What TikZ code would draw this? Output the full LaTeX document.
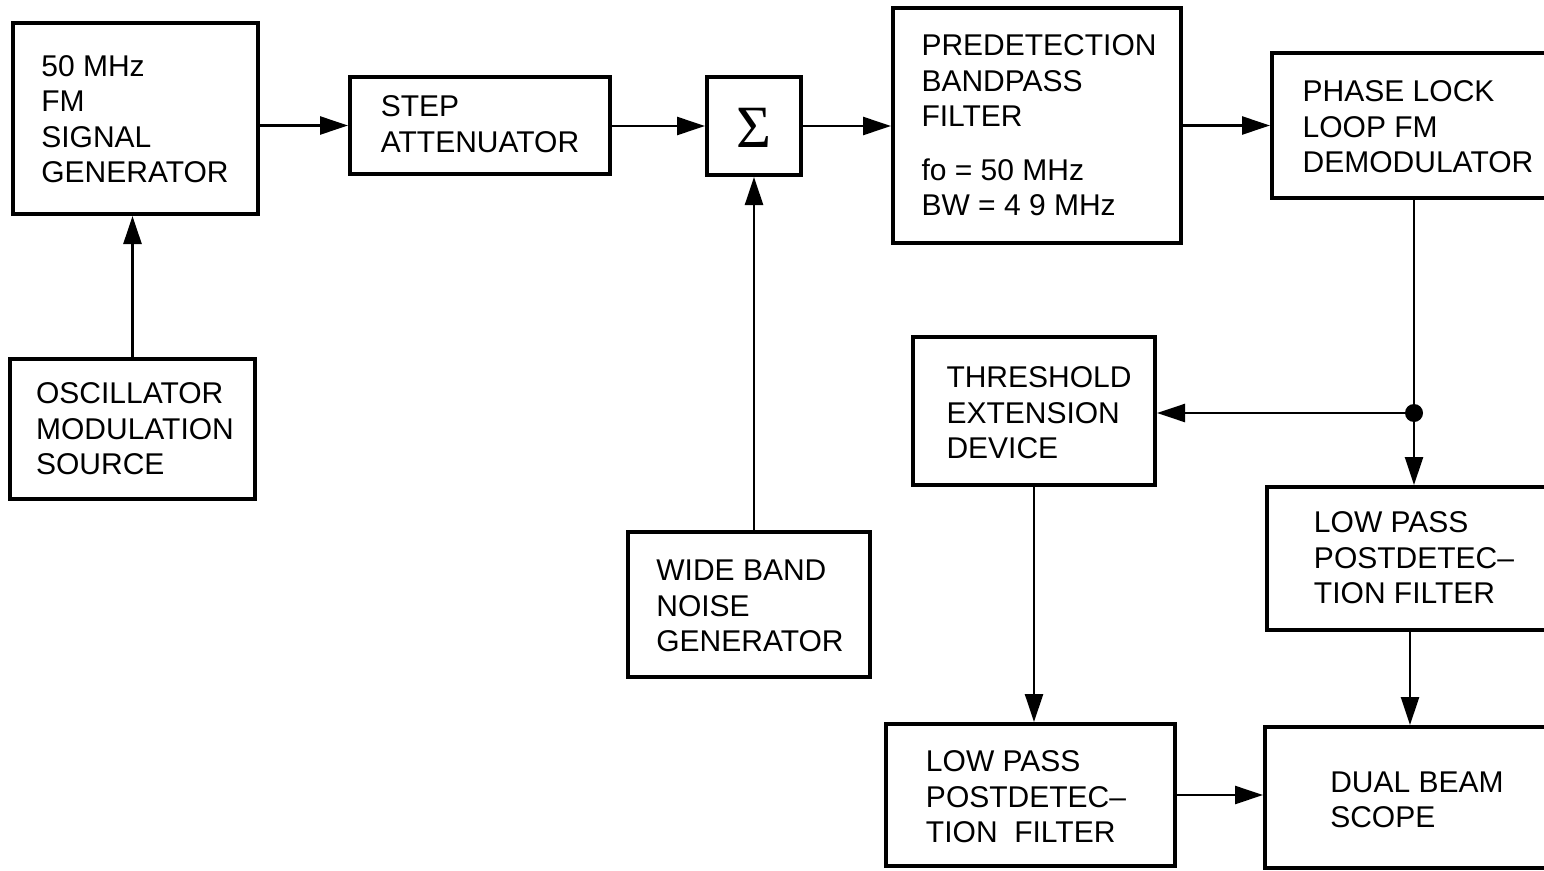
\documentclass[tikz,border=0pt]{standalone}
\usepackage{fontspec}
\setmainfont{Liberation Sans}
\newfontfamily\sigfont{Liberation Serif}
\usetikzlibrary{arrows.meta}
\begin{document}
\begin{tikzpicture}[x=1pt,y=-1pt,
  box/.style={draw, line width=4pt, inner sep=0pt},
  lbl/.style={inner sep=0pt, align=left, font=\fontsize{30}{35.5}\selectfont},
  conn/.style={line width=2.5pt},
  arr/.style={conn, -{Triangle[length=28pt,width=18pt]}}]
\clip (0,0) rectangle (1544,870);
\fill[white] (0,0) rectangle (1544,870);
% boxes
\node[box, minimum width=245pt, minimum height=191pt] (sg) at (135.5,118.5) {};
\node[lbl] (sgt) at (135,119) {50 MHz\\FM\\SIGNAL\\GENERATOR};
\node[box, minimum width=245pt, minimum height=140pt] (osc) at (132.5,429) {};
\node[lbl] (osct) at (135,429) {OSCILLATOR\\MODULATION\\SOURCE};
\node[box, minimum width=260pt, minimum height=97pt] (att) at (480,125.5) {};
\node[lbl] (attt) at (480,124) {STEP\\ATTENUATOR};
\node[box, minimum width=94pt, minimum height=98pt] (sum) at (754,126) {};
\node[inner sep=0pt, font=\sigfont\fontsize{60}{60}\selectfont] (sumt) at (754,128) {Σ};
\node[box, minimum width=242pt, minimum height=145pt] (wb) at (749,604.5) {};
\node[lbl] (wbt) at (750,606) {WIDE BAND\\NOISE\\GENERATOR};
\node[box, minimum width=288pt, minimum height=235pt] (pre) at (1037,125.5) {};
\node[lbl] (pret) at (1039,125.5) {PREDETECTION\\BANDPASS\\FILTER\\[18pt]fo = 50 MHz\\BW = 4 9 MHz};
\node[box, minimum width=284pt, minimum height=145pt] (pll) at (1414,125.5) {};
\node[lbl] (pllt) at (1418,127) {PHASE LOCK\\LOOP FM\\DEMODULATOR};
\node[box, minimum width=242pt, minimum height=148pt] (thr) at (1034,411) {};
\node[lbl] (thrt) at (1039,413) {THRESHOLD\\EXTENSION\\DEVICE};
\node[box, minimum width=294pt, minimum height=143pt] (lpr) at (1414,558.5) {};
\node[lbl] (lprt) at (1414,558) {LOW PASS\\POSTDETEC--\\TION FILTER};
\node[box, minimum width=289pt, minimum height=142pt] (lpb) at (1030.5,795) {};
\node[lbl] (lpbt) at (1026,797) {LOW PASS\\POSTDETEC--\\TION\ \ FILTER};
\node[box, minimum width=290pt, minimum height=141pt] (db) at (1410,797.5) {};
\node[lbl] (dbt) at (1417,800) {DUAL BEAM\\SCOPE};
% connectors
\draw[arr] (sg.east |- att.west) -- (att.west);
\draw[arr] (att.east |- sum.west) -- (sum.west);
\draw[arr] (sum.east) -- (sum.east -| pre.west);
\draw[arr] (pre.east) -- (pre.east -| pll.west);
\draw[arr] (osc.north) -- (osc.north |- sg.south);
\draw[arr] (sum.south |- wb.north) -- (sum.south);
\coordinate (j) at (1414,413);
\draw[conn] (pll.south) -- (j);
\draw[arr] (j) -- (j |- lpr.north);
\draw[arr] (j) -- (thr.east |- j);
\fill (j) circle (9pt);
\draw[arr] (thr.south) -- (thr.south |- lpb.north);
\draw[arr] (db.north |- lpr.south) -- (db.north);
\draw[arr] (lpb.east) -- (lpb.east -| db.west);
\end{tikzpicture}
\end{document}
